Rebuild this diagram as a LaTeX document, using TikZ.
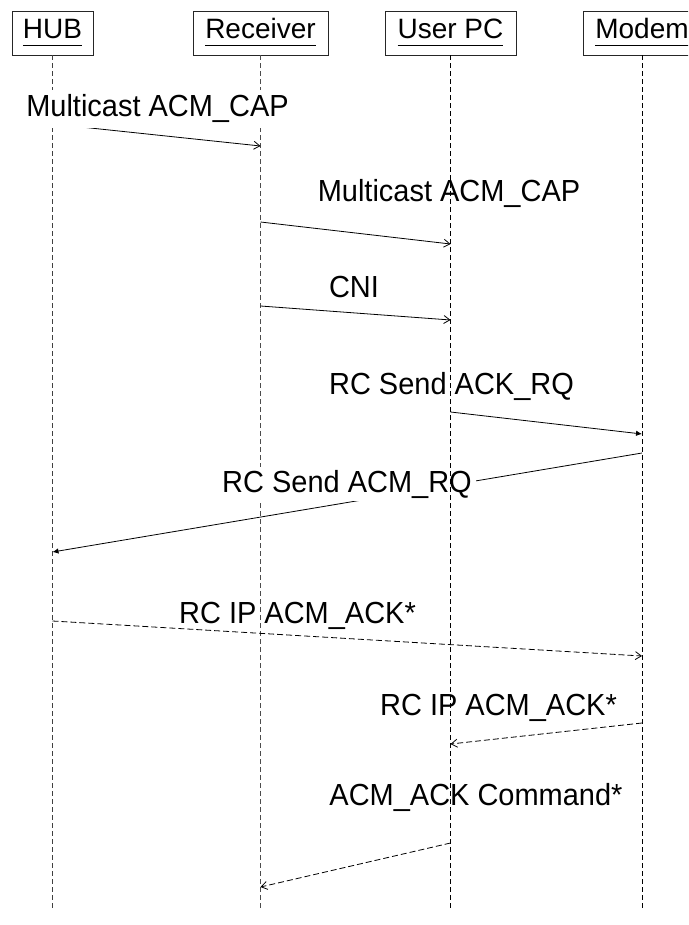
\documentclass[tikz,border=0pt]{standalone}
\usepackage{fontspec}
\setmainfont{Liberation Sans}
\newfontfamily\lblfont[FakeStretch=0.95]{Liberation Sans}
\usetikzlibrary{arrows.meta}
\newcommand{\hdrul}[1]{\setbox0\hbox{#1}\rlap{\rule[-7.5pt]{\wd0}{1.8pt}}\box0}
\begin{document}
\begin{tikzpicture}[x=1pt,y=-1pt,
  hdr/.style={draw=black!85, line width=0.8pt, minimum height=44pt, inner sep=0pt,
    text height=20pt, text depth=8pt, font=\fontsize{28}{34}\selectfont},
  life/.style={line width=0.8pt, dash pattern=on 5pt off 3pt},
  msg/.style={line width=0.8pt},
  reply/.style={line width=0.8pt, dash pattern=on 6pt off 3pt},
  opentip/.style={-{Straight Barb[length=6pt,width=8pt]}},
  solidtip/.style={-{Latex[length=6pt,width=5.5pt]}},
  lbl/.style={font=\lblfont\fontsize{30.5}{36}\selectfont, inner sep=0pt, anchor=base},
  lblbg/.style={lbl, fill=white, inner xsep=4pt}]
\useasboundingbox (0,0) rectangle (688,925);
\clip (0,0) rectangle (688,925);
\fill[white] (0,0) rectangle (688,925);

% headers
\node[hdr, minimum width=81pt] (hub) at (52.5,33) {\hdrul{HUB}};
\node[hdr, minimum width=135pt] (rcv) at (260.5,33) {\hdrul{Receiver}};
\node[hdr, minimum width=131pt] (upc) at (450.5,33) {\hdrul{User PC}};
\node[hdr, minimum width=118pt] (mdm) at (642,33) {\hdrul{Modem}};

\coordinate (hubend) at (hub |- 0,910);
\coordinate (rcvend) at (rcv |- 0,910);
\coordinate (upcend) at (upc |- 0,910);
\coordinate (mdmend) at (mdm |- 0,910);

% lifelines behind filled labels
\draw[life, black!75] (hub.south) -- (hubend);
\draw[life, black!70] (rcv.south) -- (rcvend);

% message endpoints
\coordinate (m1a) at (hub |- 0,124);  \coordinate (m1b) at (rcv |- 0,146);
\coordinate (m2a) at (rcv |- 0,222);  \coordinate (m2b) at (upc |- 0,244);
\coordinate (m3a) at (rcv |- 0,306);  \coordinate (m3b) at (upc |- 0,320);
\coordinate (m4a) at (upc |- 0,412);  \coordinate (m4b) at (mdm |- 0,434);
\coordinate (m5a) at (mdm |- 0,453);  \coordinate (m5b) at (hub |- 0,552);
\coordinate (m6a) at (hub |- 0,621);  \coordinate (m6b) at (mdm |- 0,656);
\coordinate (m7a) at (mdm |- 0,723);  \coordinate (m7b) at (upc |- 0,744);
\coordinate (m8a) at (upc |- 0,843);  \coordinate (m8b) at (rcv |- 0,887);

% messages whose labels hide part of the line
\draw[msg, opentip] (m1a) -- (m1b);
\draw[msg, solidtip] (m5a) -- (m5b);
\node[lblbg, inner ysep=4.5pt] (l1) at (157.5,117) {Multicast ACM\_CAP};
\node[lblbg, inner ysep=3pt] (l5) at (347,492) {RC Send ACM\_RQ};

% lifelines drawn over labels
\draw[life] (upc.south) -- (upcend);
\draw[life] (mdm.south) -- (mdmend);

% remaining messages
\draw[msg, opentip] (m2a) -- (m2b);
\draw[msg, opentip] (m3a) -- (m3b);
\draw[msg, solidtip] (m4a) -- (m4b);
\draw[reply, opentip] (m6a) -- (m6b);
\draw[reply, opentip] (m7a) -- (m7b);
\draw[reply, opentip] (m8a) -- (m8b);

\node[lbl] (l2) at (449,202) {Multicast ACM\_CAP};
\node[lbl] (l3) at (354,297) {CNI};
\node[lbl] (l4) at (451.5,394) {RC Send ACK\_RQ};
\node[lbl] (l6) at (297.5,623) {RC IP ACM\_ACK*};
\node[lbl] (l7) at (498.5,715) {RC IP ACM\_ACK*};
\node[lbl] (l8) at (476,805) {ACM\_ACK Command*};
\end{tikzpicture}
\end{document}
